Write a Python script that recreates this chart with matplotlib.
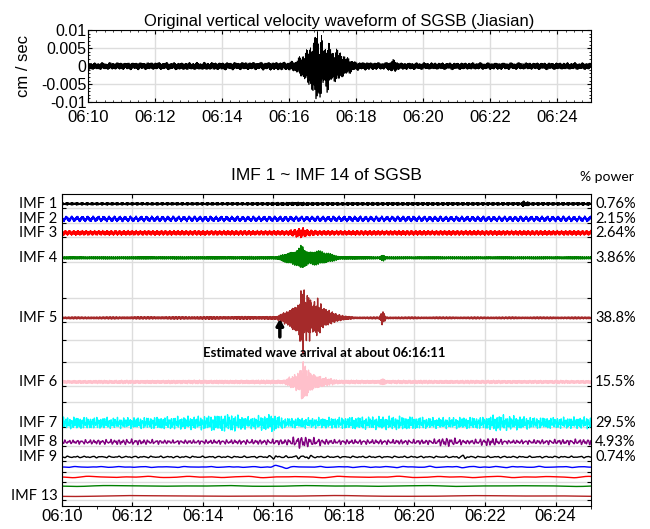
import numpy as np
import matplotlib
matplotlib.use("Agg")
import matplotlib.pyplot as plt
from matplotlib.ticker import MultipleLocator, AutoMinorLocator

# ---------------------------------------------------------------- data ---
# time in minutes after 06:10
tick_min = [0, 2, 4, 6, 8, 10, 12, 14]
tick_lab = ["06:10", "06:12", "06:14", "06:16", "06:18", "06:20", "06:22", "06:24"]

# envelope of the original velocity trace (cm/sec)
top_t = [0.0, 5.0, 6.0, 6.2, 6.4, 6.55, 6.7, 6.8, 6.85, 6.9, 6.95, 7.05, 7.15,
         7.3, 7.45, 7.6, 7.8, 8.0, 8.9, 9.1, 9.3, 15.0]
top_a = [0.0010, 0.0011, 0.0012, 0.0017, 0.0034, 0.0052, 0.0070, 0.0110, 0.0118,
         0.0072, 0.0098, 0.0058, 0.0075, 0.0046, 0.0050, 0.0034, 0.0022, 0.0012,
         0.0010, 0.0019, 0.0010, 0.0010]

imf_names = ["IMF 1", "IMF 2", "IMF 3", "IMF 4", "IMF 5", "IMF 6", "IMF 7",
             "IMF 8", "IMF 9", "", "", "", "IMF 13"]
imf_power = ["0.76%", "2.15%", "2.64%", "3.86%", "38.8%", "15.5%", "29.5%",
             "4.93%", "0.74%"]
imf_colors = ["black", "blue", "red", "green", "#a52a2a", "pink", "cyan",
              "purple", "black", "blue", "red", "green", "#b22222"]
# vertical slot of each IMF (screen units, top -> bottom)
imf_rows = [204, 219, 233, 258, 318, 382, 423, 442, 457, 467, 477, 486, 496]
# wiggle rate (cycles / minute) of each IMF
imf_freq = [420, 260, 170, 95, 55, 33, 17, 8.5, 4.2, 1.6, 0.7, 0.35, 0.2]

# amplitude envelopes (screen units)
imf_env_t = [
    [0, 5.0, 6.0, 6.8, 7.0, 13.0, 13.1, 13.3, 15],
    [0, 15],
    [0, 6.4, 6.8, 7.0, 7.3, 15],
    [0, 6.1, 6.4, 6.7, 6.8, 6.9, 7.0, 7.3, 7.6, 7.9, 9.0, 9.1, 9.2, 15],
    [0, 6.1, 6.25, 6.4, 6.55, 6.7, 6.8, 6.85, 6.9, 7.0, 7.1, 7.25, 7.4, 7.6,
     7.8, 8.0, 8.3, 9.0, 9.1, 9.2, 15],
    [0, 6.3, 6.6, 6.75, 6.85, 6.95, 7.1, 7.4, 7.8, 9.0, 9.1, 9.2, 15],
    [0, 2.0, 4.0, 4.8, 5.3, 6.0, 6.3, 7.5, 9.5, 10.5, 12.0, 12.3, 13.5, 15],
    [0, 2.0, 3.0, 5.5, 6.4, 6.8, 7.0, 7.6, 10.5, 10.9, 11.5, 12.2, 12.6, 15],
    [0, 5.8, 6.0, 6.2, 7.0, 7.2, 11.2, 11.4, 11.6, 15],
    [0, 5.8, 6.0, 6.2, 6.5, 11.4, 15],
    [0, 15],
    [0, 15],
    [0, 15],
]
imf_env_a = [
    [1.1, 1.2, 1.4, 1.8, 1.4, 1.3, 3.0, 1.3, 1.3],
    [2.8, 2.8],
    [2.4, 2.4, 5.5, 3.2, 2.4, 2.4],
    [1.2, 1.4, 5.0, 9.0, 16.0, 11.0, 8.0, 7.0, 4.5, 1.5, 1.2, 4.0, 1.2, 1.2],
    [1.0, 1.5, 5.0, 8.0, 14.0, 17.0, 34.0, 37.0, 20.0, 26.0, 15.0, 21.0, 12.0,
     8.0, 4.0, 2.0, 1.0, 1.0, 8.0, 1.0, 1.0],
    [1.6, 2.0, 8.0, 13.0, 24.0, 15.0, 9.0, 5.0, 2.0, 1.8, 4.0, 1.8, 1.6],
    [6.0, 5.5, 7.0, 9.0, 6.0, 9.0, 5.0, 5.5, 7.0, 5.5, 6.0, 8.5, 5.5, 6.0],
    [2.0, 3.0, 2.0, 2.5, 3.0, 7.0, 5.0, 2.5, 2.5, 5.0, 2.0, 4.5, 2.0, 3.0],
    [0.9, 0.9, 2.5, 0.9, 2.2, 0.9, 0.9, 2.5, 0.9, 0.9],
    [0.5, 0.5, 3.0, 3.0, 0.5, 0.8, 0.5],
    [0.8, 0.8],
    [0.5, 0.5],
    [0.5, 0.5],
]


def wiggle(t, f, ph):
    # quasi-periodic carrier built from incommensurate tones, peak ~1
    w = (np.sin(2 * np.pi * f * t + ph)
         + 0.6 * np.sin(2 * np.pi * f * 1.618 * t + 2.1 * ph)
         + 0.4 * np.sin(2 * np.pi * f * 2.414 * t + 3.3 * ph))
    return w / 1.9


plt.rcParams["font.family"] = ["Liberation Sans", "DejaVu Sans"]
fig = plt.figure(figsize=(6.5, 5.29), dpi=100)

# --------------------------------------------------------- top panel ---
ax1 = fig.add_axes([0.135, 0.807, 0.774, 0.136])
t = np.linspace(0, 15, 5000)
y_top = np.interp(t, top_t, top_a) * wiggle(t, 300, 0.7)
ax1.plot(t, y_top, color="black", lw=0.5)
ax1.set_xlim(0, 15)
ax1.set_ylim(-0.01, 0.01)
ax1.set_yticks([-0.01, -0.005, 0, 0.005, 0.01])
ax1.set_yticklabels(["-0.01", "-0.005", "0", "0.005", "0.01"])
ax1.set_xticks(tick_min)
ax1.set_xticklabels(tick_lab)
ax1.xaxis.set_minor_locator(MultipleLocator(0.25))
ax1.yaxis.set_minor_locator(AutoMinorLocator(5))
ax1.tick_params(direction="in", length=3, top=True, right=True)
ax1.tick_params(axis="x", labelsize=12, pad=6)
ax1.tick_params(axis="y", labelsize=11.5, pad=1)
ax1.tick_params(which="minor", direction="in", length=1.5, top=True, right=True)
ax1.grid(True, color="#dddddd", lw=1.0)
ax1.set_axisbelow(True)
ax1.set_ylabel("cm / sec", fontsize=12, labelpad=7)
ax1.set_title("Original vertical velocity waveform of SGSB (Jiasian)",
              fontsize=12, pad=3)

# ------------------------------------------------------ bottom panel ---
ax2 = fig.add_axes([0.095, 0.0435, 0.814, 0.590])
t2 = np.linspace(0, 15, 4000)
for i, row in enumerate(imf_rows):
    env = np.interp(t2, imf_env_t[i], imf_env_a[i])
    y = row - env * wiggle(t2, imf_freq[i], 0.37 * (i + 1))
    ax2.plot(t2, y, color=imf_colors[i], lw=1.0)

ax2.set_xlim(0, 15)
ax2.set_ylim(506, 194)
ax2.set_xticks(tick_min)
ax2.set_xticklabels(tick_lab)
grid_rows = [r + 4 for r in imf_rows[:9]] + [298, 340, 362, 402, 472, 482, 500]
ax2.set_yticks(grid_rows)
ax2.set_yticklabels([])
ax2.xaxis.set_minor_locator(MultipleLocator(0.5))
ax2.tick_params(labelsize=12, direction="in", length=3, top=True, right=True, pad=2)
ax2.tick_params(axis="y", length=3)
ax2.grid(True, color="#dddddd", lw=1.0)
ax2.set_axisbelow(True)

for i, name in enumerate(imf_names):
    if name:
        ax2.text(-0.008, imf_rows[i], name, transform=ax2.get_yaxis_transform(),
                 ha="right", va="center", fontsize=10.5, family="Lato")
for i, pw in enumerate(imf_power):
    ax2.text(1.008, imf_rows[i], pw, transform=ax2.get_yaxis_transform(),
             ha="left", va="center", fontsize=10.5, family="Lato")

ax2.set_title("IMF 1 ~ IMF 14 of SGSB", fontsize=12.5, pad=10)
ax2.text(1.03, 1.035, "% power", transform=ax2.transAxes, ha="center",
         va="bottom", fontsize=10, family="Lato")

# arrival marker at 06:16:11
arrival = 6 + 11 / 60
ax2.annotate("", xy=(arrival, 319), xytext=(arrival, 337),
             arrowprops=dict(arrowstyle="-|>,head_width=0.2,head_length=0.35",
                             color="black", lw=2.5, shrinkA=0, shrinkB=0))
ax2.text(7.45, 353, "Estimated wave arrival at about 06:16:11", ha="center",
         va="center", fontsize=9.5, fontweight="bold", family="Lato")

fig.savefig("out.png", dpi=100)
